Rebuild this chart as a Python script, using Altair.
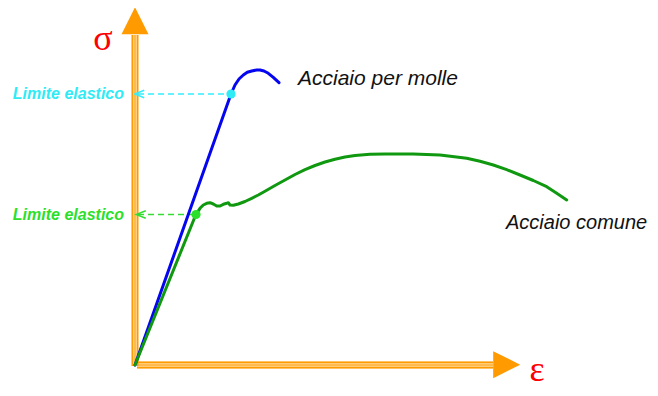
import altair as alt
import pandas as pd

# ---- data (units: strain / stress, arbitrary) ----
blue_x = [0, 96, 100, 104, 108.3, 112.3, 116.7, 121.7, 125, 129, 133.3, 138.3, 144]
blue_y = [0, 271, 280, 286, 290, 292.7, 294, 295, 295, 294, 291.7, 287.7, 282.3]

green_x = [0, 61, 65, 68.3, 71.7, 75, 78.3, 81.7, 85, 88.3, 91.7, 93.3, 95, 98.3,
           103.3, 110, 116.7, 123.3, 130, 140, 150, 160, 170, 180, 190, 200, 210,
           220, 235, 250, 278, 305, 331.7, 345, 358.3, 371.7, 385, 398.3, 411.7,
           421.7, 431.7]
green_y = [0, 150.7, 156.7, 160, 161.7, 162.3, 161, 159, 159, 160.7, 161.7, 162.3,
           160, 159.7, 161, 163.5, 166.7, 170, 173.7, 179.5, 185, 190.5, 195.3, 199.5,
           203, 205.8, 208, 209.6, 210.7, 211, 211, 210, 206.7, 203.7, 200, 195.3,
           190, 184.5, 178.3, 171.8, 165]

limit_names = ["molle", "comune"]
limit_x = [96, 61]
limit_y = [271, 150.5]
limit_colors = ["#2EEBF5", "#2BE02B"]
limit_line_colors = ["#33EEFF", "#33DD33"]
limit_label = "Limite elastico"

curve_labels = ["Acciaio per molle", "Acciaio comune"]
curve_label_x = [163, 371]
curve_label_y = [280, 136]
curve_label_size = [21, 20]

axis_end_x = 358
axis_end_y = 330
arrow_x = [0, 371.7]
arrow_y = [344.2, 0.3]

XD = [-127, 515]
YD = [-23, 357]

xs = alt.Scale(domain=XD, nice=False, zero=False)
ys = alt.Scale(domain=YD, nice=False, zero=False)
X = lambda f="x": alt.X(f, type="quantitative", scale=xs, axis=None)
Y = lambda f="y": alt.Y(f, type="quantitative", scale=ys, axis=None)

ORANGE = "#FF9A00"
LIGHT = "#FFDCA0"

# axis rules: background band + three stripes
rows = []
for off, col, w in [(0, LIGHT, 7.0), (-2.6, ORANGE, 1.6), (0, ORANGE, 1.0), (2.6, ORANGE, 1.6)]:
    rows.append(dict(x=off, x2=off, y=-1, y2=axis_end_y, c=col, w=w))
    rows.append(dict(x=2, x2=axis_end_x, y=off, y2=off, c=col, w=w))
axis_df = pd.DataFrame(rows)
axes = alt.Chart(axis_df).mark_rule().encode(
    x=X(), x2="x2:Q", y=Y(), y2="y2:Q",
    color=alt.Color("c:N", scale=None),
    strokeWidth=alt.StrokeWidth("w:Q", scale=None),
)

arr_df = pd.DataFrame({"x": arrow_x, "y": arrow_y,
                       "s": ["M0,-1L1,1L-1,1Z", "M1,0L-1,-1L-1,1Z"]})
arrows = alt.Chart(arr_df).mark_point(filled=True, opacity=1, color=ORANGE, size=729).encode(
    x=X(), y=Y(), shape=alt.Shape("s:N", scale=None))

lim_df = pd.DataFrame({"name": limit_names, "x": limit_x, "y": limit_y,
                       "x0": [3, 3], "c": limit_colors, "lc": limit_line_colors,
                       "label": [limit_label, limit_label], "lx": [-11, -11],
                       "ax": [4.5, 6]})
dashes = alt.Chart(lim_df).mark_rule(strokeDash=[6, 4], strokeWidth=1.5).encode(
    x=X("x0"), x2="x:Q", y=Y(), y2="y:Q", color=alt.Color("lc:N", scale=None))
chevrons = alt.Chart(lim_df).mark_point(filled=False, strokeWidth=1.5, size=90, opacity=1,
                                        shape="M1,-0.8L-1,0L1,0.8").encode(
    x=X("ax"), y=Y(), color=alt.Color("lc:N", scale=None))

curves_df = pd.concat([
    pd.DataFrame({"x": blue_x, "y": blue_y, "s": "molle", "o": range(len(blue_x))}),
    pd.DataFrame({"x": green_x, "y": green_y, "s": "comune", "o": range(len(green_x))}),
])
curves = alt.Chart(curves_df).mark_line(strokeWidth=3, interpolate="linear",
                                        strokeJoin="round", strokeCap="round").encode(
    x=X(), y=Y(), detail="s:N", order="o:Q",
    color=alt.Color("s:N", scale=alt.Scale(domain=["molle", "comune"],
                                           range=["#0505F0", "#109910"]), legend=None))

points = alt.Chart(lim_df).mark_circle(size=85, opacity=1).encode(
    x=X(), y=Y(), color=alt.Color("c:N", scale=None))

lim_text = alt.Chart(lim_df).mark_text(align="right", baseline="middle", font="Liberation Sans",
                                       fontStyle="italic", fontWeight="bold", fontSize=16).encode(
    x=X("lx"), y=Y(), text="label:N", color=alt.Color("c:N", scale=None))

cl_df = pd.DataFrame({"x": curve_label_x, "y": curve_label_y, "t": curve_labels,
                      "fs": curve_label_size})
curve_text = alt.Chart(cl_df).mark_text(align="left", baseline="alphabetic", font="Liberation Sans",
                                        fontStyle="italic", color="#111111").encode(
    x=X(), y=Y(), text="t:N", size=alt.Size("fs:Q", scale=None))

greek_df = pd.DataFrame({"x": [-32, 402], "y": [315, -16], "t": ["σ", "ε"]})
greek = alt.Chart(greek_df).mark_text(align="center", baseline="alphabetic", font="Liberation Serif",
                                      fontSize=36, color="#FF0000").encode(
    x=X(), y=Y(), text="t:N")

chart = alt.layer(axes, arrows, dashes, chevrons, curves, points, lim_text, curve_text, greek).properties(
    width=642, height=380, padding=0, autosize=alt.AutoSizeParams(type="none"),
).configure_view(stroke=None)

chart.save("out.html", embed_options={"renderer": "svg", "actions": False})
